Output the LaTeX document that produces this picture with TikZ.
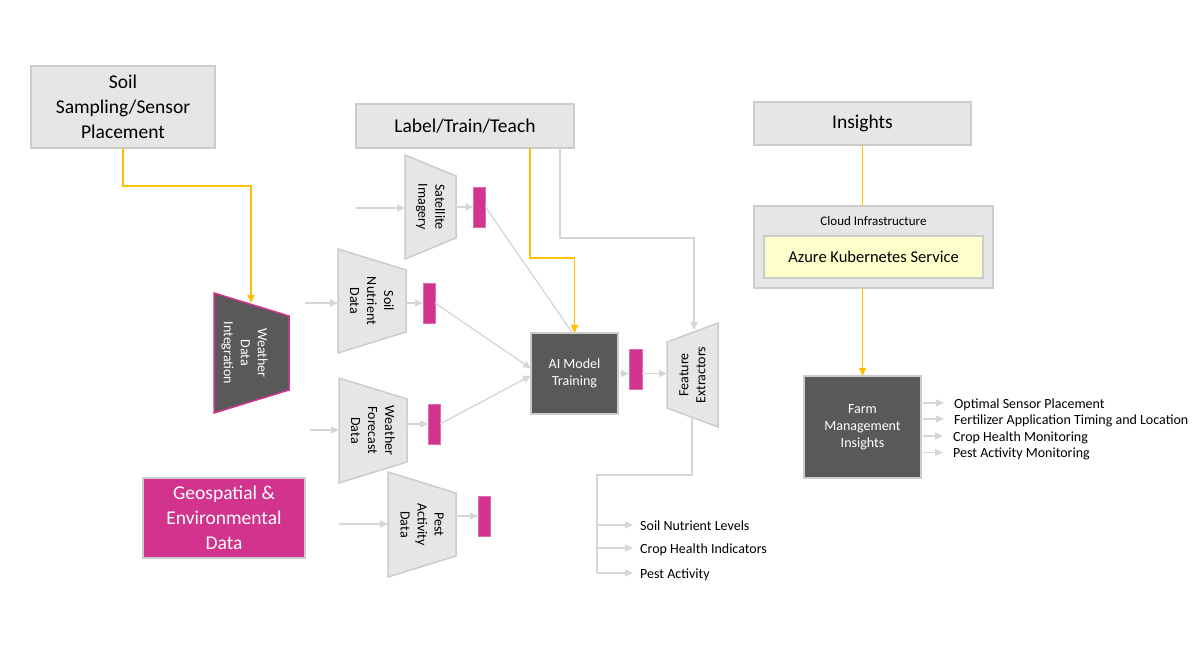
\documentclass[tikz,border=0pt]{standalone}
\usepackage{fontspec}
\setmainfont{Carlito}
\usetikzlibrary{arrows.meta,positioning,backgrounds,calc}

\definecolor{cBox}{HTML}{E6E6E6}
\definecolor{cEdge}{HTML}{CCCCCC}
\definecolor{cDark}{HTML}{595959}
\definecolor{cMag}{HTML}{D2338C}
\definecolor{cOrg}{HTML}{FFC000}
\definecolor{cWire}{HTML}{D6D6D6}
\definecolor{cAks}{HTML}{FFFFCC}

\tikzset{
  box/.style={draw=cEdge,fill=cBox,line width=1.5pt,inner sep=0pt,outer sep=0pt,align=center},
  darkbox/.style={box,fill=cDark,text=white},
  bigtxt/.style={font=\fontsize{19.5}{25}\selectfont},
  smalltxt/.style={font=\fontsize{14}{17}\selectfont},
  trap/.style={inner sep=0pt,outer sep=0pt},
  traptxt/.style={smalltxt,align=center,inner sep=0pt},
  trapgray/.style={draw=cEdge,fill=cBox,line width=1.5pt},
  trapdark/.style={draw=cMag,fill=cDark,line width=1.5pt},
  chip/.style={fill=cMag,draw=cMag!70!white,line width=0.8pt,minimum width=12pt,
               minimum height=40pt,inner sep=0pt,outer sep=0pt},
  wire/.style={draw=cWire,line width=1.3pt},
  warr/.style={wire,-{Triangle[length=8pt,width=7pt]}},
  owire/.style={draw=cOrg,line width=1.5pt},
  oarr/.style={owire,-{Triangle[length=8pt,width=7pt]}},
  item/.style={smalltxt,anchor=west,inner sep=0pt},
}

% trapezoid in the frame of a node, long side left / right
\newcommand\trapleft[3][trapgray]{%
  \begin{pgfonlayer}{background}
    \draw[#1] (#2.north west) -- ([yshift=-#3pt]#2.north east)
      -- ([yshift=#3pt]#2.south east) -- (#2.south west) -- cycle;
  \end{pgfonlayer}}
\newcommand\trapright[3][trapgray]{%
  \begin{pgfonlayer}{background}
    \draw[#1] (#2.north east) -- (#2.south east)
      -- ([yshift=#3pt]#2.south west) -- ([yshift=-#3pt]#2.north west) -- cycle;
  \end{pgfonlayer}}

\begin{document}
\begin{tikzpicture}[x=1pt,y=-1pt]
\begin{scope}[on background layer]
  \fill[white] (0,0) rectangle (1200,660);
\end{scope}
\useasboundingbox (0,0) rectangle (1200,660);

% top boxes
\node[box,bigtxt,minimum width=184pt,minimum height=82pt] (soil) at (123,107)
  {Soil\\Sampling/Sensor\\Placement};
\node[box,bigtxt,minimum width=218pt,minimum height=44pt] (label) at (465,126)
  {Label/Train/Teach};
\node[box,bigtxt,minimum width=217pt,minimum height=43pt] (insights) at (862.5,123.5)
  {Insights};

% cloud
\node[box,minimum width=239pt,minimum height=82pt] (cloud) at (873.5,247) {};
\node[font=\fontsize{13}{15}\selectfont,inner sep=0pt] (cloudttl) at (873.5,221)
  {Cloud Infrastructure};
\node[box,fill=cAks,font=\fontsize{16.5}{20}\selectfont,minimum width=219pt,
      minimum height=42pt] (aks) at (873.5,257) {Azure Kubernetes Service};
\node[darkbox,smalltxt,minimum width=117pt,minimum height=102pt] (farm) at (862.5,427)
  {Farm\\Management\\Insights};

% weather data integration
\node[trap,minimum width=75pt,minimum height=120pt] (wdi) at (251.5,353) {};
\node[traptxt,text=white,rotate=-90] (wdi-t) at ([xshift=-7pt]wdi.center)
  {Weather\\Data\\Integration};
\trapleft[trapdark]{wdi}{23}

% name/x/y/width/height/text
\foreach \n/\x/\y/\w/\h/\txt in {%
  sat/430.5/207/51/104/{Satellite\\Imagery},
  snd/372/301/68/104/{Soil\\Nutrient\\Data},
  wfd/373/430.5/68/105/{Weather\\Forecast\\Data},
  pad/422/524.5/68/105/{Pest\\Activity\\Data}}
{
  \node[trap,minimum width=\w pt,minimum height=\h pt] (\n) at (\x,\y) {};
  \node[traptxt,rotate=-90] (\n-t) at (\n) {\txt};
  \trapleft{\n}{21}
}

\node[box,bigtxt,fill=cMag,text=white,minimum width=162pt,minimum height=80pt]
  (geo) at (224,518) {Geospatial \&\\Environmental\\Data};

\node[chip] (c-sat) at (479.5,207) {};
\node[chip] (c-snd) at (429,303) {};
\node[chip] (c-wfd) at (434,424) {};
\node[chip] (c-pad) at (484,516) {};

\node[darkbox,smalltxt,minimum width=87pt,minimum height=81pt] (ai) at (574.5,373.5)
  {\rule{0pt}{7pt}AI Model\\Training};
\node[chip,minimum width=13pt] (c-ai) at (635.5,369) {};

\node[trap,minimum width=51pt,minimum height=104pt] (fex) at (692.5,375) {};
\node[traptxt,rotate=90] (fex-t) at (fex) {Feature\\Extractors};
\trapright{fex}{19}

% free ends
\coordinate (sat-in) at (356,208);
\coordinate (snd-in) at (305,303);
\coordinate (wfd-in) at (310,430);
\coordinate (pad-in) at (339,524);
\coordinate (wdi-in) at (251,303);
\coordinate (fex-in) at (694,330);
\coordinate (fex-out) at (692,417);
\coordinate (fbus) at (597,475);

% inputs
\foreach \n in {sat,snd,wfd,pad}
  \draw[warr] (\n-in) -- (\n-in -| \n.west);
\foreach \n in {sat,snd,wfd,pad}
  \draw[warr] (\n.east |- c-\n) -- (c-\n.west);

% into the model
\draw[wire] (c-sat.east) -- ([xshift=-2pt]ai.north);
\draw[warr] (c-snd.east) -- ([yshift=5pt]ai.west);
\draw[warr] (c-wfd.east) -- ([yshift=-2pt]ai.west);
\draw[warr] (ai.east) -- (ai.east -| c-ai.west);
\draw[warr] (c-ai.east |- ai.east) -- (fex.west |- ai.east);

% teaching lines
\draw[oarr] (soil.south) -- ++(0,38) -| (wdi-in);
\draw[oarr] ([xshift=65pt]label.south) -- ++(0,110) -| (ai.north);
\draw[warr] ([xshift=95pt]label.south) -- ++(0,90) -| (fex-in);

% extracted features
\node[item] (o1) at (640,526) {Soil Nutrient Levels};
\node[item] (o2) at (640,549.5) {Crop Health Indicators};
\node[item] (o3) at (640,574.5) {Pest Activity};
\draw[wire] (fex-out) |- (fbus) -- (fbus |- 0,573);
\foreach \o/\yy in {o1/525,o2/548,o3/573}
  \draw[warr,shorten >=7pt] (fbus |- 0,\yy) -- (\o.west |- 0,\yy);

% insights
\draw[owire] (insights.south) -- (insights.south |- cloud.north);
\draw[oarr] (cloud.south -| farm.north) -- (farm.north);

\node[item] (p1) at (954,404.5) {Optimal Sensor Placement};
\node[item] (p2) at (954,420.5) {Fertilizer Application Timing and Location};
\node[item] (p3) at (953,437.5) {Crop Health Monitoring};
\node[item] (p4) at (953,454) {Pest Activity Monitoring};
\foreach \p/\yy in {p1/403,p2/419,p3/436,p4/452.5}
  \draw[warr] ([xshift=2pt]farm.east |- 0,\yy) -- ([xshift=-10pt]\p.west |- 0,\yy);
\end{tikzpicture}
\end{document}
